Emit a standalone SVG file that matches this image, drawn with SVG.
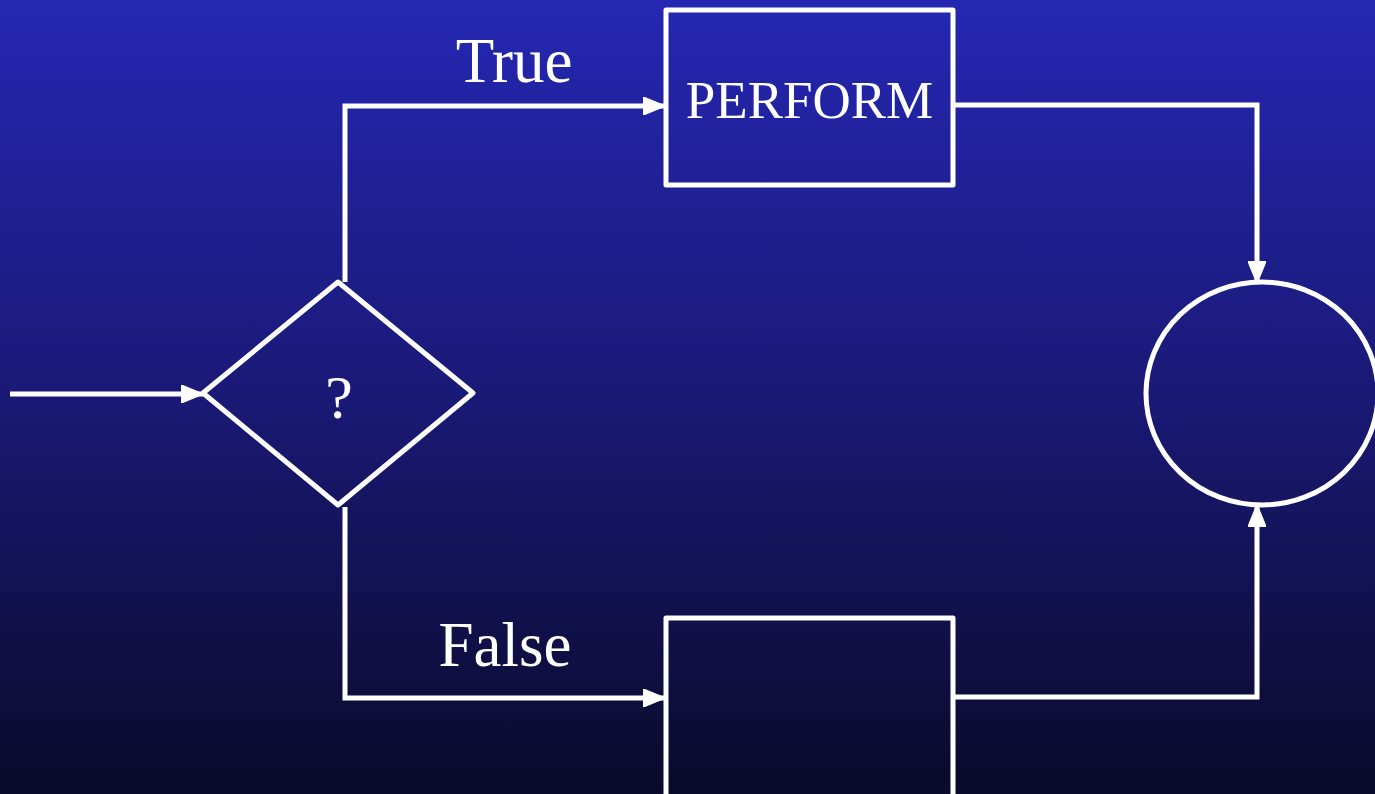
<svg xmlns="http://www.w3.org/2000/svg" width="1375" height="794" viewBox="0 0 1375 794">
<defs>
<linearGradient id="bg" x1="0" y1="0" x2="0" y2="1">
<stop offset="0" stop-color="#2427B2"/>
<stop offset="0.5" stop-color="#1A1976"/>
<stop offset="1" stop-color="#0A0A2A"/>
</linearGradient>
<marker id="arr" markerWidth="4.4" markerHeight="3.6" refX="4.4" refY="1.8" orient="auto" markerUnits="strokeWidth">
<path d="M0,0 L4.4,1.8 L0,3.6 Z" fill="#fff" stroke="#fff" stroke-width="0.3" stroke-linejoin="round"/>
</marker>
<style>
.ln{fill:none;stroke:#fff;stroke-width:5;}
.shape{fill:none;stroke:#fff;stroke-width:5;stroke-linejoin:round;}
.t{font-family:"Liberation Serif","Times New Roman",serif;fill:#fff;}
</style>
</defs>
<rect x="0" y="0" width="1375" height="794" fill="url(#bg)"/>
<g id="connectors">
<path class="ln" d="M10,394 L203,394" marker-end="url(#arr)"/>
<path class="ln" d="M345,282 L345,106 L665,106" marker-end="url(#arr)"/>
<path class="ln" d="M345,507 L345,698 L665,698" marker-end="url(#arr)"/>
<path class="ln" d="M955,105 L1257,105 L1257,283" marker-end="url(#arr)"/>
<path class="ln" d="M955,697 L1257,697 L1257,505" marker-end="url(#arr)"/>
</g>
<g id="label-true"><text class="t" x="514" y="82" font-size="63" text-anchor="middle">True</text></g>
<g id="label-false"><text class="t" x="505" y="666" font-size="63" text-anchor="middle">False</text></g>
<g id="decision">
<polygon class="shape" points="203,393 338,282 473,393 338,505"/>
<text class="t" x="339" y="418" font-size="62" text-anchor="middle">?</text>
</g>
<g id="perform">
<rect class="shape" x="666" y="10" width="287" height="175"/>
<text class="t" x="809.5" y="118" font-size="53" text-anchor="middle">PERFORM</text>
</g>
<g id="empty-box">
<rect class="shape" x="666" y="618" width="287" height="190"/>
</g>
<g id="connector-circle">
<ellipse class="shape" cx="1262" cy="393.5" rx="116" ry="111.5"/>
</g>
</svg>
